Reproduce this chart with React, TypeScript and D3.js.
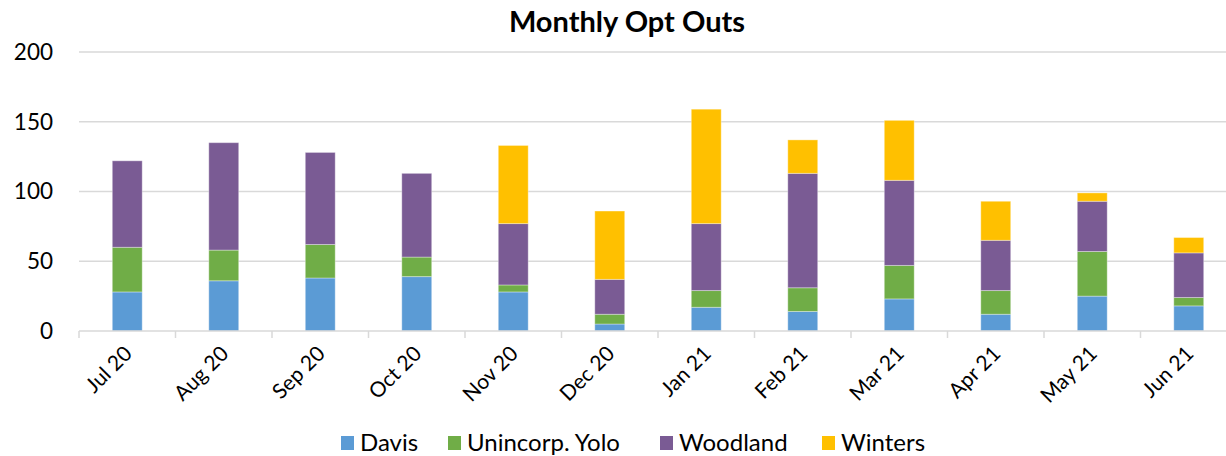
import React from "react";
import * as d3 from "d3";

const width = 1226;
const height = 456;
const margin = { top: 52, right: -11, bottom: 125, left: 79 };

const months = ["Jul 20", "Aug 20", "Sep 20", "Oct 20", "Nov 20", "Dec 20", "Jan 21", "Feb 21", "Mar 21", "Apr 21", "May 21", "Jun 21"];
const davis = [28, 36, 38, 39, 28, 5, 17, 14, 23, 12, 25, 18];
const unincorp = [32, 22, 24, 14, 5, 7, 12, 17, 24, 17, 32, 6];
const woodland = [62, 77, 66, 60, 44, 25, 48, 82, 61, 36, 36, 32];
const winters = [0, 0, 0, 0, 56, 49, 82, 24, 43, 28, 6, 11];
const yTicks = [0, 50, 100, 150, 200];

const seriesNames = ["Davis", "Unincorp. Yolo", "Woodland", "Winters"];
const colors = ["#5B9BD5", "#70AD47", "#7A5B94", "#FFC000"];
const font = "Lato, 'Open Sans', sans-serif";

const rows = months.map((m, i) => ({
  month: m,
  Davis: davis[i],
  "Unincorp. Yolo": unincorp[i],
  Woodland: woodland[i],
  Winters: winters[i],
}));

export default function App() {
  const x = d3
    .scaleBand()
    .domain(months)
    .range([margin.left, width - margin.right])
    .paddingInner(0.69)
    .paddingOuter(0.345);
  const y = d3
    .scaleLinear()
    .domain([0, 200])
    .range([height - margin.bottom, margin.top]);
  const stacked = d3.stack<any>().keys(seriesNames)(rows);
  const step = x.step();
  const y0 = y(0);

  const legendX = [341, 448, 660, 822];

  return (
    <svg width={width} height={height} style={{ position: "absolute", left: 0, top: 0 }}>
      <rect width={width} height={height} fill="#fff" />
      <text x={627} y={32} textAnchor="middle" fontFamily={font} fontWeight="bold" fontSize={29} fill="#000">
        Monthly Opt Outs
      </text>
      {yTicks.map((t) => (
        <g key={t}>
          {t > 0 && (
            <line x1={margin.left} x2={width} y1={y(t)} y2={y(t)} stroke="#D9D9D9" strokeWidth={1.5} />
          )}
          <text x={53} y={y(t)} dy="0.35em" textAnchor="end" fontFamily={font} fontSize={22.5} fill="#000">
            {t}
          </text>
        </g>
      ))}
      {stacked.map((s, si) => (
        <g key={s.key} fill={colors[si]}>
          {s.map((d, i) =>
            d[1] - d[0] > 0 ? (
              <rect
                key={i}
                x={x(months[i])}
                y={y(d[1])}
                width={x.bandwidth()}
                height={y(d[0]) - y(d[1])}
                stroke="#fff"
                strokeOpacity={0.35}
                strokeWidth={1}
              />
            ) : null
          )}
        </g>
      ))}
      <line x1={margin.left} x2={width} y1={y0} y2={y0} stroke="#D9D9D9" strokeWidth={1.5} />
      {months.map((m, i) => (
        <line
          key={m}
          x1={margin.left + i * step}
          x2={margin.left + i * step}
          y1={y0}
          y2={y0 + 7}
          stroke="#D9D9D9"
          strokeWidth={1.5}
        />
      ))}
      {months.map((m) => {
        const cx = (x(m) as number) + x.bandwidth() / 2 + 6;
        return (
          <text
            key={m}
            transform={`translate(${cx},${y0 + 24}) rotate(-45)`}
            textAnchor="end"
            fontFamily={font}
            fontSize={21}
            fill="#000"
          >
            {m}
          </text>
        );
      })}
      {seriesNames.map((n, i) => (
        <g key={n} transform={`translate(${legendX[i]},${443})`}>
          <rect x={0} y={-7} width={13} height={14} fill={colors[i]} />
          <text x={19} y={0} dy="0.35em" fontFamily={font} fontSize={24} fill="#000">
            {n}
          </text>
        </g>
      ))}
    </svg>
  );
}
